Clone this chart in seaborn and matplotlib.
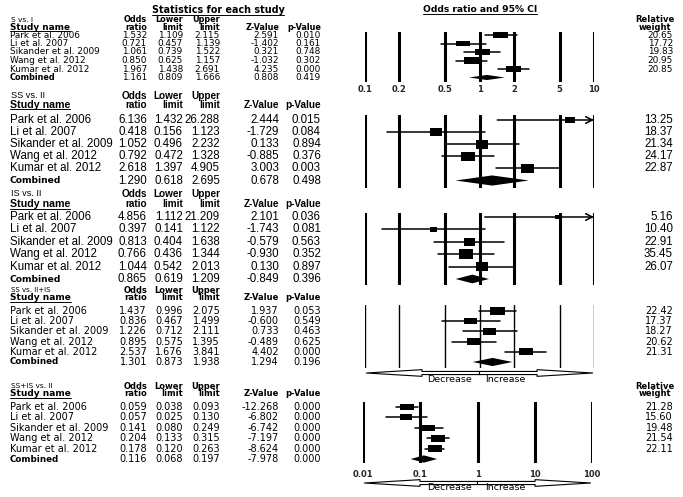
import numpy as np
import pandas as pd
import matplotlib
matplotlib.use('Agg')
import matplotlib.pyplot as plt
import seaborn as sns
from matplotlib.lines import Line2D
from matplotlib.ticker import NullLocator
from matplotlib.transforms import IdentityTransform, blended_transform_factory

W, H = 683, 497

studies = ['Park et al. 2006', 'Li et al. 2007', 'Sikander et al. 2009',
           'Wang et al. 2012', 'Kumar et al. 2012']

# last value of each list is the "Combined" row
# S vs. I
s_i_or = [1.532, 0.721, 1.061, 0.850, 1.967, 1.161]
s_i_lo = [1.109, 0.457, 0.739, 0.625, 1.438, 0.809]
s_i_hi = [2.115, 1.139, 1.522, 1.157, 2.691, 1.666]
s_i_z = [2.591, -1.402, 0.321, -1.032, 4.235, 0.808]
s_i_p = [0.010, 0.161, 0.748, 0.302, 0.000, 0.419]
s_i_w = [20.65, 17.72, 19.83, 20.95, 20.85]

# SS vs. II
ss_ii_or = [6.136, 0.418, 1.052, 0.792, 2.618, 1.290]
ss_ii_lo = [1.432, 0.156, 0.496, 0.472, 1.397, 0.618]
ss_ii_hi = [26.288, 1.123, 2.232, 1.328, 4.905, 2.695]
ss_ii_z = [2.444, -1.729, 0.133, -0.885, 3.003, 0.678]
ss_ii_p = [0.015, 0.084, 0.894, 0.376, 0.003, 0.498]
ss_ii_w = [13.25, 18.37, 21.34, 24.17, 22.87]

# IS vs. II
is_ii_or = [4.856, 0.397, 0.813, 0.766, 1.044, 0.865]
is_ii_lo = [1.112, 0.141, 0.404, 0.436, 0.542, 0.619]
is_ii_hi = [21.209, 1.122, 1.638, 1.344, 2.013, 1.209]
is_ii_z = [2.101, -1.743, -0.579, -0.930, 0.130, -0.849]
is_ii_p = [0.036, 0.081, 0.563, 0.352, 0.897, 0.396]
is_ii_w = [5.16, 10.40, 22.91, 35.45, 26.07]

# SS vs. II+IS
ss_iiis_or = [1.437, 0.836, 1.226, 0.895, 2.537, 1.301]
ss_iiis_lo = [0.996, 0.467, 0.712, 0.575, 1.676, 0.873]
ss_iiis_hi = [2.075, 1.499, 2.111, 1.395, 3.841, 1.938]
ss_iiis_z = [1.937, -0.600, 0.733, -0.489, 4.402, 1.294]
ss_iiis_p = [0.053, 0.549, 0.463, 0.625, 0.000, 0.196]
ss_iiis_w = [22.42, 17.37, 18.27, 20.62, 21.31]

# SS+IS vs. II
ssis_ii_or = [0.059, 0.057, 0.141, 0.204, 0.178, 0.116]
ssis_ii_lo = [0.038, 0.025, 0.080, 0.133, 0.120, 0.068]
ssis_ii_hi = [0.093, 0.130, 0.249, 0.315, 0.263, 0.197]
ssis_ii_z = [-12.268, -6.802, -6.742, -7.197, -8.624, -7.978]
ssis_ii_p = [0.000, 0.000, 0.000, 0.000, 0.000, 0.000]
ssis_ii_w = [21.28, 15.60, 19.48, 21.54, 22.11]

ticks_a = [0.1, 0.2, 0.5, 1, 2, 5, 10]
tick_labels_a = ['0.1', '0.2', '0.5', '1', '2', '5', '10']
ticks_b = [0.01, 0.1, 1, 10, 100]
tick_labels_b = ['0.01', '0.1', '1', '10', '100']

col_top = ['Odds', 'Lower', 'Upper', '', '']
col_bot = ['ratio', 'limit', 'limit', 'Z-Value', 'p-Value']

WIDE = ['DejaVu Sans']
ARIAL = ['Liberation Sans', 'DejaVu Sans']

panels = [
    dict(name='S vs. I', odds=s_i_or, lower=s_i_lo, upper=s_i_hi, z=s_i_z, p=s_i_p, w=s_i_w,
         ticks=ticks_a, labels=tick_labels_a, show_ticks=True, arrows=False, rw_head=True,
         top=32, bot=82, y0=35, dy=8.5, h1=19.5, h2=27, fam=WIDE, fs=6.4, hs=5.9, gs=5.3, cs=5.9,
         aspect=2.3, smax=115, lw=2.2, dh=0.3),
    dict(name='SS vs. II', odds=ss_ii_or, lower=ss_ii_lo, upper=ss_ii_hi, z=ss_ii_z, p=ss_ii_p, w=ss_ii_w,
         ticks=ticks_a, labels=tick_labels_a, show_ticks=False, arrows=False, rw_head=False,
         top=115, bot=188, y0=120, dy=12.1, h1=96, h2=105, fam=ARIAL, fs=8.3, hs=7.2, gs=6.6, cs=6.6,
         aspect=1.45, smax=95, lw=2.2, dh=0.42),
    dict(name='IS vs. II', odds=is_ii_or, lower=is_ii_lo, upper=is_ii_hi, z=is_ii_z, p=is_ii_p, w=is_ii_w,
         ticks=ticks_a, labels=tick_labels_a, show_ticks=False, arrows=False, rw_head=False,
         top=213, bot=285, y0=217, dy=12.4, h1=194, h2=204, fam=ARIAL, fs=8.3, hs=7.2, gs=6.6, cs=6.6,
         aspect=1.4, smax=100, lw=2.2, dh=0.35),
    dict(name='SS vs. II+IS', odds=ss_iiis_or, lower=ss_iiis_lo, upper=ss_iiis_hi, z=ss_iiis_z, p=ss_iiis_p, w=ss_iiis_w,
         ticks=ticks_a, labels=tick_labels_a, show_ticks=False, arrows=True, rw_head=False,
         top=305, bot=368, y0=311, dy=10.2, h1=290.5, h2=298, fam=WIDE, fs=7.0, hs=6.0, gs=5.0, cs=6.3,
         aspect=1.9, smax=105, lw=1.0, dh=0.4, arrow_off=5, text_off=11),
    dict(name='SS+IS vs. II', odds=ssis_ii_or, lower=ssis_ii_lo, upper=ssis_ii_hi, z=ssis_ii_z, p=ssis_ii_p, w=ssis_ii_w,
         ticks=ticks_b, labels=tick_labels_b, show_ticks=True, arrows=True, rw_head=True,
         top=402, bot=463, y0=407, dy=10.4, h1=386.5, h2=394, fam=WIDE, fs=7.0, hs=6.0, gs=5.3, cs=6.3,
         aspect=2.0, smax=100, lw=2.2, dh=0.35, arrow_off=20, text_off=25),
]

num_right = [147, 183, 220, 279, 321]  # right edges of number columns (px)

sns.set_theme(style='white')
plt.rcParams['font.family'] = ['DejaVu Sans']

fig = plt.figure(figsize=(W / 100, H / 100), dpi=100)
fig.patch.set_facecolor('white')

underlined = []


def fy(y):
    return 1 - y / H


def put(x, y, s, ha='left', size=6.6, weight='normal', fam=WIDE):
    return fig.text(x / W, fy(y), s, ha=ha, va='center', fontsize=size,
                    fontweight=weight, family=fam, color='black')


# top titles
underlined.append(put(218, 10, 'Statistics for each study', ha='center', size=6.9, weight='bold'))
underlined.append(put(480, 10, 'Odds ratio and 95% CI', ha='center', size=6.6, weight='bold'))

for pn in panels:
    fam, fs, hs = pn['fam'], pn['fs'], pn['hs']
    # table header
    put(11, pn['h1'], pn['name'], size=pn['gs'], fam=fam)
    underlined.append(put(10, pn['h2'], 'Study name', size=hs + 0.5, weight='bold', fam=fam))
    for cx, t1, t2 in zip(num_right, col_top, col_bot):
        if t1:
            put(cx, pn['h1'], t1, ha='right', size=hs, weight='bold', fam=fam)
        put(cx, pn['h2'], t2, ha='right', size=hs, weight='bold', fam=fam)
    if pn['rw_head']:
        put(655, pn['h1'], 'Relative', ha='center', size=6.0, weight='bold')
        put(655, pn['h2'], 'weight', ha='center', size=6.0, weight='bold')

    # table rows
    names = studies + ['Combined']
    for i, nm in enumerate(names):
        y = pn['y0'] + i * pn['dy']
        if nm == 'Combined':
            put(10, y, nm, size=pn['cs'], weight='bold', fam=WIDE)
        else:
            put(10, y, nm, size=fs, fam=fam)
        vals = [pn['odds'][i], pn['lower'][i], pn['upper'][i], pn['z'][i], pn['p'][i]]
        for cx, v in zip(num_right, vals):
            put(cx, y, f'{v:.3f}', ha='right', size=fs, fam=fam)
        if i < 5:
            put(673, y, f'{pn["w"][i]:.2f}', ha='right', size=fs, fam=fam)

    # forest plot
    if pn['ticks'] is ticks_b:
        x0, x1 = 363, 592
    else:
        x0, x1 = 365, 594
    xmin, xmax = pn['ticks'][0], pn['ticks'][-1]
    ax = fig.add_axes([x0 / W, fy(pn['bot']), (x1 - x0) / W, (pn['bot'] - pn['top']) / H])
    ax.set_xscale('log')
    ax.set_facecolor('none')

    for t in pn['ticks']:
        ax.axvline(t, color='black', lw=pn['lw'], zorder=1)

    for i in range(5):
        lo, hi = pn['lower'][i], pn['upper'][i]
        if hi > xmax:
            ax.annotate('', xy=(xmax, i), xytext=(lo, i),
                        arrowprops=dict(arrowstyle='->', color='black', lw=1.1,
                                        shrinkA=0, shrinkB=0))
        else:
            ax.plot([lo, hi], [i, i], color='black', lw=1.1, zorder=2)

    a = pn['aspect']
    rect = [(-a, -1), (a, -1), (a, 1), (-a, 1), (-a, -1)]
    df = pd.DataFrame({'odds': pn['odds'][:5], 'row': np.arange(5), 'weight': pn['w']})
    sns.scatterplot(data=df, x='odds', y='row', size='weight', sizes=(0, pn['smax']),
                    size_norm=(0, max(pn['w'])), marker=rect, color='black',
                    edgecolor='black', linewidth=0, legend=False, ax=ax, zorder=3)

    c = 5
    dh = pn['dh']
    ax.fill([pn['lower'][c], pn['odds'][c], pn['upper'][c], pn['odds'][c]],
            [c, c - dh, c, c + dh], color='black', lw=0, zorder=3)

    ax.set_xlim(xmin, xmax)
    ax.set_ylim((pn['bot'] - pn['y0']) / pn['dy'], (pn['top'] - pn['y0']) / pn['dy'])
    ax.set_xlabel('')
    ax.set_ylabel('')
    ax.set_yticks([])
    if pn['show_ticks']:
        ax.set_xticks(pn['ticks'])
        ax.set_xticklabels(pn['labels'], fontsize=6, fontweight='bold', family='DejaVu Sans')
    else:
        ax.set_xticks([])
    ax.xaxis.set_minor_locator(NullLocator())
    ax.tick_params(axis='x', length=0, pad=2.5 if pn['ticks'] is ticks_a else 5)
    for sp in ax.spines.values():
        sp.set_visible(False)

    if pn['arrows']:
        hgt = pn['bot'] - pn['top']
        tr = blended_transform_factory(ax.transData, ax.transAxes)
        yf = -pn['arrow_off'] / hgt
        for end in (xmin, xmax):
            ax.annotate('', xy=(end, yf), xytext=(1, yf), xycoords=tr, textcoords=tr,
                        arrowprops=dict(arrowstyle='simple,head_length=5,head_width=0.6,tail_width=0.28',
                                        mutation_scale=8, fc='white', ec='black', lw=0.8,
                                        shrinkA=0, shrinkB=1))
        ty = pn['bot'] + pn['text_off']
        put(472, ty, 'Decrease', ha='right', size=6.8)
        put(485, ty, 'Increase', ha='left', size=6.8)

# underline header texts
fig.canvas.draw()
renderer = fig.canvas.get_renderer()
for t in underlined:
    bb = t.get_window_extent(renderer=renderer)
    fig.add_artist(Line2D([bb.x0, bb.x1], [bb.y0 + 0.5, bb.y0 + 0.5], transform=IdentityTransform(),
                          color='black', lw=0.7))

fig.savefig('out.png', dpi=100, facecolor='white')
